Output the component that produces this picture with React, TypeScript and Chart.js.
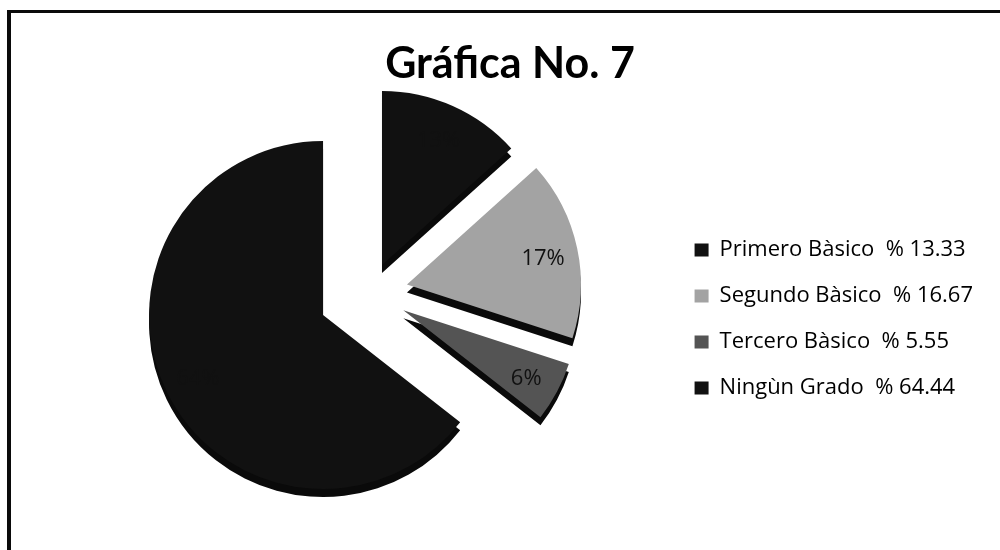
import React, { useEffect, useRef } from 'react';
import { Chart, registerables } from 'chart.js';

Chart.register(...registerables);

const chartTitle = 'Gráfica No. 7';
const categories = ['Primero Bàsico', 'Segundo Bàsico', 'Tercero Bàsico', 'Ningùn Grado'];
const percentages = [13.33, 16.67, 5.55, 64.44];
const legendLabels = categories.map((c, i) => `${c}  % ${percentages[i].toFixed(2)}`);
const sliceColors = ['#111111', '#a3a3a3', '#545454', '#111111'];
const explodeOffsets = [30, 38, 38, 52];
const sideDepth = 8;
const sideColor = '#0a0a0a';

const legendFontFamily = 'Open Sans';
const legendFontSize = 22;
const legendBoxWidth = 14;
const legendPadding = 24;
const chartLeft = 69;
const chartRight = 669;
const titleCenterX = 510;

function measureLegendWidth(): number {
  const c = document.createElement('canvas').getContext('2d');
  if (!c) return 300;
  c.font = `normal ${legendFontSize}px ${legendFontFamily}`;
  const w = Math.max(...legendLabels.map((t) => c.measureText(t).width));
  return Math.ceil(legendPadding + legendBoxWidth + legendFontSize / 2 + w + 10) + 1;
}

const explodePlugin = {
  id: 'explodeSlices',
  afterDatasetUpdate(chart: any, args: any) {
    const meta = args.meta;
    meta.data.forEach((arc: any, i: number) => {
      const mid = (arc.startAngle + arc.endAngle) / 2;
      const d = explodeOffsets[i] || 0;
      arc.x += Math.cos(mid) * d;
      arc.y += Math.sin(mid) * d;
    });
  },
};

const titleShiftPlugin = {
  id: 'titleShift',
  afterLayout(chart: any) {
    const tb = chart.titleBlock;
    if (!tb) return;
    const shift = titleCenterX - (tb.left + tb.right) / 2;
    tb.left += shift;
    tb.right += shift;
  },
};

const depthPlugin = {
  id: 'sliceDepth',
  beforeDatasetsDraw(chart: any) {
    const ctx = chart.ctx;
    const meta = chart.getDatasetMeta(0);
    meta.data.forEach((arc: any) => {
      const orig = arc.options;
      arc.options = { ...orig, backgroundColor: sideColor, borderColor: sideColor, borderWidth: 0 };
      ctx.save();
      ctx.translate(0, sideDepth);
      arc.draw(ctx);
      ctx.restore();
      arc.options = orig;
    });
  },
};

const valueLabelPlugin = {
  id: 'valueLabels',
  afterDatasetsDraw(chart: any) {
    const ctx = chart.ctx;
    const meta = chart.getDatasetMeta(0);
    const data = chart.data.datasets[0].data as number[];
    ctx.save();
    ctx.font = '22px "Open Sans"';
    ctx.fillStyle = '#111111';
    ctx.textAlign = 'center';
    ctx.textBaseline = 'middle';
    meta.data.forEach((arc: any, i: number) => {
      const mid = (arc.startAngle + arc.endAngle) / 2;
      const r = arc.outerRadius * 0.8;
      ctx.fillText(`${Math.round(data[i])}%`, arc.x + Math.cos(mid) * r, arc.y + Math.sin(mid) * r + 3);
    });
    ctx.restore();
  },
};

export default function App() {
  const ref = useRef<HTMLCanvasElement>(null);
  useEffect(() => {
    const canvas = ref.current;
    if (!canvas) return;
    Chart.defaults.font.family = 'Lato';
    const legendW = measureLegendWidth();
    const padRight = Math.max(0, 1000 - chartRight - legendW);
    const chart = new Chart(canvas, {
      type: 'pie',
      data: {
        labels: legendLabels,
        datasets: [
          {
            data: percentages,
            backgroundColor: sliceColors,
            borderWidth: 0,
          },
        ],
      },
      options: {
        responsive: false,
        maintainAspectRatio: false,
        animation: false,
        events: [],
        radius: 174,
        layout: { padding: { left: chartLeft, right: padRight, top: 10, bottom: 127 } },
        plugins: {
          title: {
            display: true,
            text: chartTitle,
            color: '#000',
            font: { family: 'Lato', size: 43, weight: 'bold' },
            padding: { top: 28, bottom: 72 },
          },
          legend: {
            position: 'right',
            align: 'end',
            labels: {
              boxWidth: legendBoxWidth,
              boxHeight: 13,
              padding: legendPadding,
              color: '#000',
              font: { family: legendFontFamily, size: legendFontSize },
            },
          },
          tooltip: { enabled: false },
        },
      } as any,
      plugins: [explodePlugin, titleShiftPlugin, depthPlugin, valueLabelPlugin],
    });
    return () => chart.destroy();
  }, []);

  return (
    <div
      style={{
        position: 'fixed',
        left: 0,
        top: 0,
        width: 1000,
        height: 550,
        overflow: 'hidden',
        background: '#fff',
      }}
    >
      <canvas
        ref={ref}
        width={1000}
        height={550}
        style={{ position: 'absolute', left: 0, top: 0, width: 1000, height: 550 }}
      />
      <div
        style={{
          position: 'absolute',
          left: 7,
          top: 10,
          width: 1100,
          height: 700,
          borderLeft: '4px solid #0a0a0a',
          borderTop: '3px solid #0a0a0a',
          pointerEvents: 'none',
        }}
      />
    </div>
  );
}
